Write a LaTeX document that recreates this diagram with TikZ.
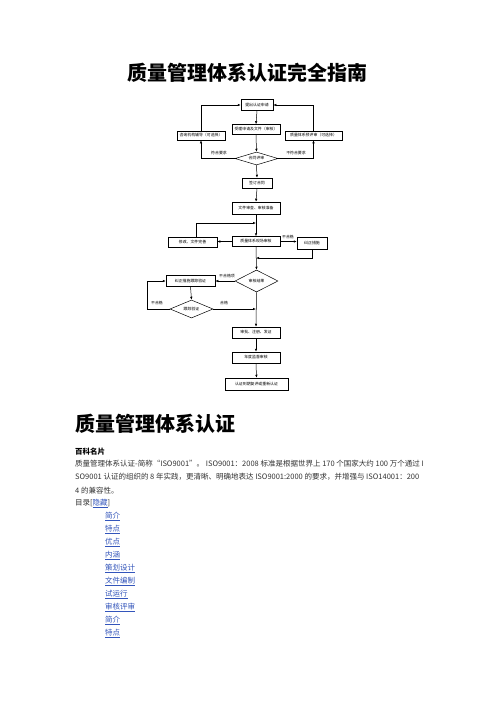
\documentclass[tikz,border=0pt]{standalone}
\usepackage{fontspec}
\newfontfamily\cjk{Noto Sans CJK SC}
\usetikzlibrary{shapes.geometric,arrows.meta}
\definecolor{linkblue}{HTML}{3355BB}
\definecolor{bodygray}{HTML}{333333}
\begin{document}
\begin{tikzpicture}[x=1pt,y=-1pt,
  fc/.style={font=\cjk\fontsize{3.9}{4.5}\selectfont},
  box/.style={fc,draw,line width=0.5pt,inner sep=0pt,align=center},
  dia/.style={fc,draw,diamond,line width=0.5pt,inner sep=0pt},
  lab/.style={fc,inner sep=0pt},
  arr/.style={-{Latex[length=3pt,width=2.4pt]},line width=0.5pt},
  body/.style={font=\cjk\fontsize{7.5}{9}\selectfont,text=bodygray,inner sep=0pt,anchor=west},
  toc/.style={font=\cjk\fontsize{7.5}{9}\selectfont,text=linkblue,inner sep=0pt,anchor=west}]
\useasboundingbox (0,0) rectangle (496,702);
\fill[white] (0,0) rectangle (496,702);
% title
\node[font=\cjk\bfseries\fontsize{20}{22}\selectfont,inner sep=0pt] (title) at (247.5,72.5) {质量管理体系认证完全指南};
% flowchart nodes
\node[box,minimum width=32pt,minimum height=11pt] (top) at (257,105) {提出认证申请};
\node[box,minimum width=48pt,minimum height=10pt] (center) at (256,129.5) {受理申请及文件（审核）};
\node[box,minimum width=48pt,minimum height=9pt] (left) at (201,135.5) {咨询机构辅导（可选择）};
\node[box,minimum width=57pt,minimum height=9pt] (right) at (313.5,135.5) {质量体系预评审（可选择）};
\node[dia,aspect=3.3,minimum width=43pt,minimum height=13pt] (d1) at (256.5,158.5) {合同评审};
\node[box,minimum width=30pt,minimum height=10pt] (contract) at (257,183) {签订合同};
\node[box,minimum width=48pt,minimum height=12pt] (prep) at (256,208) {文件审查、审核准备};
\node[box,minimum width=48pt,minimum height=10pt] (audit) at (256,241.5) {质量体系现场审核};
\node[box,minimum width=49pt,minimum height=10pt] (fix) at (192.5,242) {修改、文件完善};
\node[box,minimum width=30pt,minimum height=12pt] (corr) at (312,243) {纠正措施};
\node[dia,aspect=2,minimum width=43pt,minimum height=22pt] (d2) at (256.5,281) {审核结果};
\node[box,minimum width=49pt,minimum height=11pt] (track) at (190.5,281) {纠正措施跟踪验证};
\node[dia,aspect=2.4,minimum width=43pt,minimum height=18pt] (d3) at (191.5,309) {跟踪验证};
\node[box,minimum width=48pt,minimum height=11pt] (approve) at (256,332.5) {审批、注册、发证};
\node[box,minimum width=48pt,minimum height=11pt] (sup) at (256,357.5) {年度监督审核};
\node[box,minimum width=63pt,minimum height=12pt] (final) at (256.5,384) {认证到期复评或重新认证};
\coordinate (j1) at (256,223);
\coordinate (j2) at (256,258);
\coordinate (j3) at (256,309);
\coordinate (k3) at (147,309);
% connectors
\draw[arr] (top.south) -- (center.north);
\draw[arr] (left.north) |- (top.west);
\draw[arr] (right.north) |- (top.east);
\draw[arr] (center.south) -- (d1.north);
\draw[arr] (d1.west) -| (left.south);
\draw[arr] (d1.east) -| (right.south);
\draw[arr] (d1.south) -- (contract.north);
\draw[arr] (contract.south) -- (prep.north);
\draw[arr] (prep.south) -- (audit.north);
\draw[arr] ([xshift=4pt]fix.north) |- (j1);
\draw[arr] (audit.west) -- (audit.west -| fix.east);
\draw[arr] (audit.east) -- (audit.east -| corr.west);
\draw[arr] (corr.south) |- (j2);
\draw[arr] (audit.south) -- (d2.north);
\draw[arr] (d2.west) -- (track.east);
\draw[arr] (track.south) -- (d3.north);
\draw[arr] (d3.west) -- (k3) |- (track.west);
\draw[arr] (d3.east) -- (j3);
\draw[arr] (d2.south) -- (approve.north);
\draw[arr] (approve.south) -- (sup.north);
\draw[arr] (sup.south) -- (final.north);
% connector labels
\node[lab] (l1) at (219,153) {符合要求};
\node[lab] (l2) at (296,153) {不符合要求};
\node[lab] (l3) at (288,237) {不合格};
\node[lab] (l4) at (227,276) {不合格项};
\node[lab] (l5) at (157,303.5) {不合格};
\node[lab] (l6) at (224,303.5) {合格};
% heading and body
\node[font=\cjk\bfseries\fontsize{20}{22}\selectfont,inner sep=0pt,anchor=west] (head) at (75,424) {质量管理体系认证};
\node[font=\cjk\bfseries\fontsize{7.5}{9}\selectfont,inner sep=0pt,anchor=west] (card) at (75,451.5) {百科名片};
\node[body] (p1) at (75,463.5) {质量管理体系认证-简称“ISO9001”。 ISO9001：2008 标准是根据世界上 170 个国家大约 100 万个通过 I};
\node[body] (p2) at (75,477) {SO9001 认证的组织的 8 年实践，更清晰、明确地表达 ISO9001:2000 的要求，并增强与 ISO14001：200};
\node[body] (p3) at (75,490.5) {4 的兼容性。};
\node[body] (toch) at (75,503.5) {目录[\textcolor{linkblue}{\underline{隐藏}}]};
\node[toc] (c1) at (105,516.5) {\underline{简介}};
\node[toc] (c2) at (105,529.5) {\underline{特点}};
\node[toc] (c3) at (105,542.5) {\underline{优点}};
\node[toc] (c4) at (105,555.5) {\underline{内涵}};
\node[toc] (c5) at (105,568.5) {\underline{策划设计}};
\node[toc] (c6) at (105,581.5) {\underline{文件编制}};
\node[toc] (c7) at (105,594.5) {\underline{试运行}};
\node[toc] (c8) at (105,607.5) {\underline{审核评审}};
\node[toc] (c9) at (105,620.5) {\underline{简介}};
\node[toc] (c10) at (105,633.5) {\underline{特点}};
\end{tikzpicture}
\end{document}
